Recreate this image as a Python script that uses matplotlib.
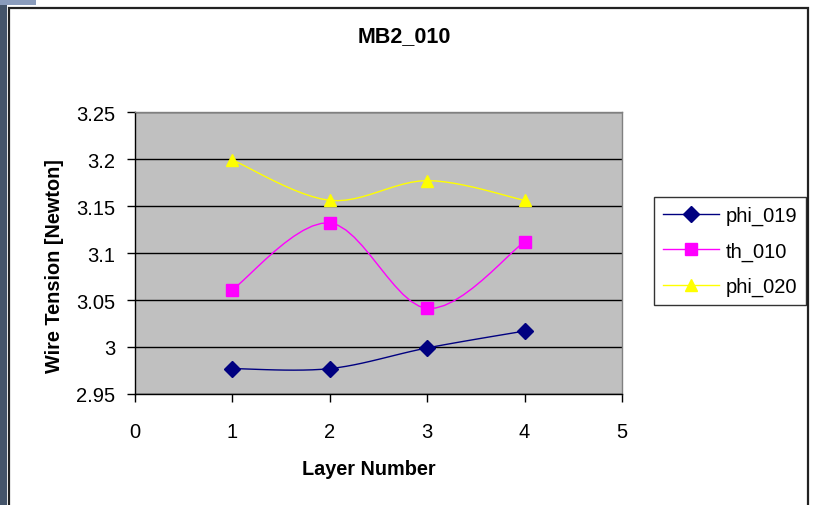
import matplotlib
matplotlib.use('Agg')
import matplotlib.pyplot as plt
import matplotlib.patches as patches
from matplotlib.lines import Line2D
import numpy as np

plt.rcParams['font.family'] = ['Liberation Sans', 'DejaVu Sans']

layers = [1, 2, 3, 4]
phi_019 = [2.977, 2.977, 2.999, 3.017]
th_010 = [3.061, 3.132, 3.041, 3.112]
phi_020 = [3.199, 3.156, 3.177, 3.156]

series = [
    ('phi_019', phi_019, '#000080', 'D', 8),
    ('th_010', th_010, '#FF00FF', 's', 8),
    ('phi_020', phi_020, '#FFFF00', '^', 9),
]


def smooth(x, y, n=12):
    # catmull-rom through the points, ends use the point itself as neighbour
    x = np.asarray(x, float)
    y = np.asarray(y, float)
    px = np.concatenate([[x[0]], x, [x[-1]]])
    py = np.concatenate([[y[0]], y, [y[-1]]])
    xs, ys = [], []
    for i in range(1, len(px) - 2):
        t = np.linspace(0, 1, n, endpoint=False)
        for p, out in ((px, xs), (py, ys)):
            p0, p1, p2, p3 = p[i - 1], p[i], p[i + 1], p[i + 2]
            out.extend(0.5 * ((2 * p1) + (-p0 + p2) * t
                              + (2 * p0 - 5 * p1 + 4 * p2 - p3) * t ** 2
                              + (-p0 + 3 * p1 - 3 * p2 + p3) * t ** 3))
    xs.append(x[-1])
    ys.append(y[-1])
    return np.array(xs), np.array(ys)


fig = plt.figure(figsize=(8.14, 5.06), dpi=100)
W, H = 814.0, 506.0

# side strip and frame of the chart object
fig.patches.append(patches.Rectangle((0, 0), 7 / W, 1, transform=fig.transFigure,
                                     facecolor='#44546a', edgecolor='none'))
fig.patches.append(patches.Rectangle((0, 1 - 6 / H), 36 / W, 6 / H, transform=fig.transFigure,
                                     facecolor='#8a9cbc', edgecolor='none'))
fig.patches.append(patches.Rectangle((9 / W, -0.05), 799 / W, 1 - 9 / H + 0.05,
                                     transform=fig.transFigure, facecolor='none',
                                     edgecolor='#222222', linewidth=1.6))

ax = fig.add_axes([135 / W, 1 - 395 / H, 487 / W, 282 / H])
ax.set_facecolor('#C0C0C0')

for name, vals, col, mk, ms in series:
    sx, sy = smooth(layers, vals)
    ax.plot(sx, sy, color=col, linewidth=1.0, zorder=3)
    ax.plot(layers, vals, linestyle='none', marker=mk, markersize=ms,
            color=col, markeredgecolor=col, zorder=4)

ax.set_xlim(0, 5)
ax.set_ylim(2.95, 3.25)
ax.set_xticks(range(0, 6))
ax.set_yticks(np.arange(2.95, 3.2501, 0.05))
ax.set_yticklabels(['2.95', '3', '3.05', '3.1', '3.15', '3.2', '3.25'])
ax.yaxis.grid(True, color='black', linewidth=1.0)
ax.set_axisbelow(True)
ax.tick_params(axis='both', labelsize=14.5, length=6, width=1, direction='out',
               colors='black')
ax.tick_params(axis='y', pad=8)
ax.tick_params(axis='x', pad=14)

for s in ('left', 'bottom'):
    ax.spines[s].set_color('black')
    ax.spines[s].set_linewidth(1.0)
for s in ('top', 'right'):
    ax.spines[s].set_color('#808080')
    ax.spines[s].set_linewidth(1.0)

fig.text(404 / W, 1 - 37 / H, 'MB2_010', ha='center', va='center',
         fontsize=15.5, fontweight='bold')
fig.text(369 / W, 1 - 470 / H, 'Layer Number', ha='center', va='center',
         fontsize=14.3, fontweight='bold')
fig.text(55 / W, 1 - 266 / H, 'Wire Tension [Newton]', ha='center', va='center',
         rotation=90, fontsize=14.3, fontweight='bold')

handles = [Line2D([], [], color=col, marker=mk, markersize=ms, linewidth=1.0,
                  markeredgecolor=col) for name, vals, col, mk, ms in series]
leg = fig.legend(handles, [s[0] for s in series], loc='center',
                 bbox_to_anchor=(730 / W, 1 - 252 / H), fontsize=14.5,
                 frameon=True, fancybox=False, handlelength=2.8,
                 handletextpad=0.3, labelspacing=0.8, borderpad=0.45)
leg.get_frame().set_edgecolor('black')
leg.get_frame().set_linewidth(1.0)

fig.savefig('out.png', dpi=100)
